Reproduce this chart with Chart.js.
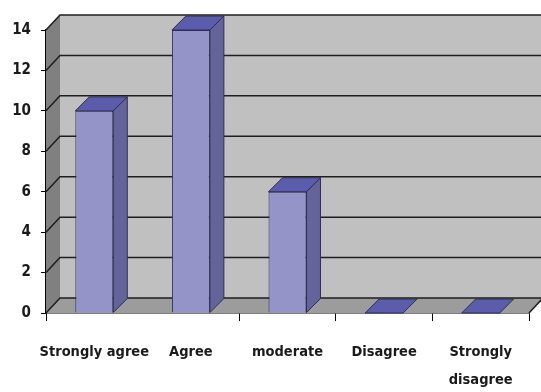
<!DOCTYPE html>
<html>
<head>
<meta charset="utf-8">
<script src="https://cdn.jsdelivr.net/npm/chart.js@4.4.1/dist/chart.umd.min.js"></script>
<style>
  html, body { margin: 0; padding: 0; background: #fff; }
  #wrap { width: 541px; height: 392px; }
</style>
</head>
<body>
<div id="wrap"><canvas id="chart" width="541" height="392"></canvas></div>
<script>
// data
const categories = ['Strongly agree', 'Agree', 'moderate', 'Disagree', ['Strongly', 'disagree']];
const responses = [10, 14, 6, 0, 0];
const yTicks = [0, 2, 4, 6, 8, 10, 12, 14];

// fake 3d look, Excel style
const WALL_DX = 14, WALL_DY = -15;
const BAR_DX = 14, BAR_DY = -14;

const poly = (ctx, pts, fill, stroke) => {
    ctx.beginPath();
    ctx.moveTo(pts[0][0], pts[0][1]);
    for (let i = 1; i < pts.length; i++) ctx.lineTo(pts[i][0], pts[i][1]);
    ctx.closePath();
    ctx.fillStyle = fill;
    ctx.fill();
    if (stroke) {
        ctx.strokeStyle = stroke;
        ctx.lineWidth = 1;
        ctx.stroke();
    }
};

const wallsPlugin = {
    id: 'walls',
    beforeDatasetsDraw(chart) {
        const { ctx, chartArea: a, scales: { y } } = chart;
        const L = a.left, R = a.right, T = a.top, B = a.bottom;
        ctx.save();
        // back wall
        poly(ctx, [[L + WALL_DX, T + WALL_DY], [R + WALL_DX, T + WALL_DY], [R + WALL_DX, B + WALL_DY], [L + WALL_DX, B + WALL_DY]], '#c0c0c0');
        // left wall
        poly(ctx, [[L, T], [L + WALL_DX, T + WALL_DY], [L + WALL_DX, B + WALL_DY], [L, B]], '#808080');
        // floor
        poly(ctx, [[L, B], [L + WALL_DX, B + WALL_DY], [R + WALL_DX, B + WALL_DY], [R, B]], '#9c9c9c');
        // gridlines on the walls
        ctx.strokeStyle = '#1e1e1e';
        ctx.lineWidth = 1.5;
        yTicks.forEach(v => {
            const py = y.getPixelForValue(v);
            ctx.beginPath();
            ctx.moveTo(L, py);
            ctx.lineTo(L + WALL_DX, py + WALL_DY);
            ctx.lineTo(R + WALL_DX, py + WALL_DY);
            ctx.stroke();
        });
        // right edge of the floor
        ctx.beginPath();
        ctx.moveTo(R, B);
        ctx.lineTo(R + WALL_DX, B + WALL_DY);
        ctx.stroke();
        ctx.restore();
    },
    afterDatasetsDraw(chart) {
        const { ctx } = chart;
        const meta = chart.getDatasetMeta(0);
        ctx.save();
        meta.data.forEach(bar => {
            const { x, y, base, width } = bar.getProps(['x', 'y', 'base', 'width'], true);
            const x0 = x - width / 2, x1 = x + width / 2;
            // side face
            if (base - y > 0.5) {
                poly(ctx, [[x1, y], [x1 + BAR_DX, y + BAR_DY], [x1 + BAR_DX, base + BAR_DY], [x1, base]], '#64649a', '#2e2e55');
            }
            // top face
            poly(ctx, [[x0, y], [x0 + BAR_DX, y + BAR_DY], [x1 + BAR_DX, y + BAR_DY], [x1, y]], '#5c5cac', '#2e2e55');
        });
        ctx.restore();
    }
};

const FONT = '"DejaVu Sans Condensed", "DejaVu Sans", sans-serif';
const labelFont = { family: FONT, size: 14.5, weight: 'bold', lineHeight: 1.93 };

new Chart(document.getElementById('chart').getContext('2d'), {
    type: 'bar',
    data: {
        labels: categories,
        datasets: [{
            data: responses,
            backgroundColor: '#9494c8',
            borderColor: '#2e2e55',
            borderWidth: (c) => c.raw === 0 ? 0 : 1,
            borderSkipped: 'bottom',
            barPercentage: 0.393,
            categoryPercentage: 1
        }]
    },
    options: {
        responsive: false,
        animation: false,
        layout: { padding: { top: 30, right: 12, left: 0, bottom: 0 } },
        plugins: { legend: { display: false }, tooltip: { enabled: false } },
        scales: {
            x: {
                grid: {
                    offset: true,
                    drawOnChartArea: false,
                    drawTicks: true,
                    tickLength: 8,
                    color: (c) => c.index === 1 ? 'rgba(0,0,0,0)' : '#000'
                },
                border: { display: true, color: '#000', width: 1.5 },
                ticks: { color: '#1a1a1a', font: labelFont, padding: 17, maxRotation: 0, autoSkip: false },
                afterFit: (s) => { s.height = 79; }
            },
            y: {
                min: 0,
                max: 14,
                grid: { drawOnChartArea: false, drawTicks: true, tickLength: 5, color: '#000' },
                border: { display: true, color: '#000', width: 1.5 },
                ticks: {
                    stepSize: 2,
                    color: '#1a1a1a',
                    padding: 10,
                    font: { family: FONT, size: 15, weight: 'bold' }
                },
                afterFit: (s) => { s.width = 46; }
            }
        }
    },
    plugins: [wallsPlugin]
});
</script>
</body>
</html>
